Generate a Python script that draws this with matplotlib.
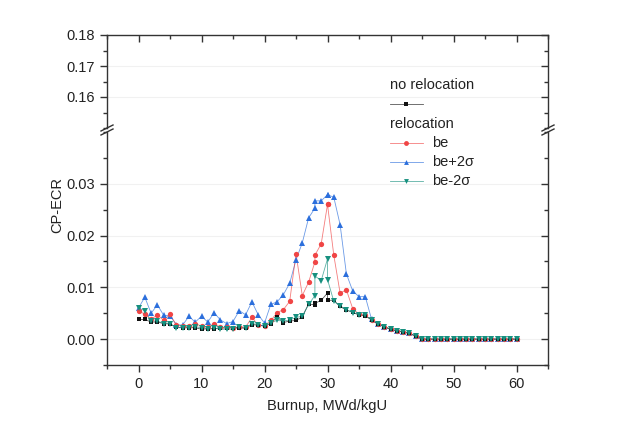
import matplotlib
matplotlib.use('Agg')
import matplotlib.pyplot as plt
from matplotlib.lines import Line2D
from matplotlib.ticker import MultipleLocator

# Burnup grid (two sub-steps at 28 and 30)
burnup = [0, 1, 2, 3, 4, 5, 6, 7, 8, 9, 10, 11, 12, 13, 14, 15, 16, 17, 18, 19,
          20, 21, 22, 23, 24, 25, 26, 27, 28, 28, 29, 30, 30, 31, 32, 33, 34, 35,
          36, 37, 38, 39, 40, 41, 42, 43, 44, 45, 46, 47, 48, 49, 50, 51, 52, 53,
          54, 55, 56, 57, 58, 59, 60]

no_reloc = [0.0038, 0.0038, 0.0033, 0.0033, 0.0030, 0.0029, 0.0023, 0.0022, 0.0022, 0.0022,
            0.0019, 0.0020, 0.0020, 0.0022, 0.0021, 0.0022, 0.0022, 0.0021, 0.0028, 0.0027,
            0.0025, 0.0030, 0.0043, 0.0032, 0.0035, 0.0036, 0.0043, 0.0068, 0.0066, 0.0069,
            0.0075, 0.0089, 0.0075, 0.0075, 0.0063, 0.0056, 0.0052, 0.0047, 0.0045, 0.0037,
            0.0029, 0.0024, 0.0019, 0.0016, 0.0014, 0.0011, 0.0006, 0, 0, 0, 0, 0, 0, 0,
            0, 0, 0, 0, 0, 0, 0, 0, 0]

be = [0.0055, 0.0048, 0.0038, 0.0047, 0.0036, 0.0048, 0.0027, 0.0025, 0.0025, 0.0030,
      0.0025, 0.0024, 0.0029, 0.0023, 0.0023, 0.0022, 0.0024, 0.0023, 0.0042, 0.0027,
      0.0026, 0.0036, 0.0051, 0.0057, 0.0073, 0.0165, 0.0084, 0.0110, 0.0149, 0.0162,
      0.0184, 0.0260, 0.0260, 0.0162, 0.0089, 0.0095, 0.0059, 0.0048, 0.0046, 0.0037,
      0.0029, 0.0024, 0.0019, 0.0016, 0.0014, 0.0011, 0.0006, 0, 0, 0, 0, 0, 0, 0,
      0, 0, 0, 0, 0, 0, 0, 0, 0]

be_plus = [0.0060, 0.0081, 0.0050, 0.0066, 0.0046, 0.0045, 0.0028, 0.0027, 0.0044, 0.0033,
           0.0044, 0.0033, 0.0051, 0.0037, 0.0030, 0.0034, 0.0055, 0.0047, 0.0072, 0.0047,
           0.0031, 0.0067, 0.0072, 0.0086, 0.0108, 0.0153, 0.0186, 0.0234, 0.0253, 0.0267,
           0.0267, 0.0279, 0.0279, 0.0274, 0.0221, 0.0126, 0.0093, 0.0082, 0.0082, 0.0038,
           0.0029, 0.0024, 0.0019, 0.0016, 0.0014, 0.0011, 0.0006, 0, 0, 0, 0, 0, 0, 0,
           0, 0, 0, 0, 0, 0, 0, 0, 0]

be_minus = [0.0060, 0.0055, 0.0035, 0.0035, 0.0030, 0.0030, 0.0022, 0.0022, 0.0022, 0.0024,
            0.0022, 0.0020, 0.0021, 0.0019, 0.0019, 0.0019, 0.0023, 0.0021, 0.0030, 0.0028,
            0.0025, 0.0032, 0.0036, 0.0035, 0.0037, 0.0042, 0.0044, 0.0067, 0.0084, 0.0122,
            0.0113, 0.0155, 0.0115, 0.0073, 0.0064, 0.0057, 0.0051, 0.0047, 0.0046, 0.0037,
            0.0029, 0.0024, 0.0019, 0.0016, 0.0014, 0.0011, 0.0006, 0, 0, 0, 0, 0, 0, 0,
            0, 0, 0, 0, 0, 0, 0, 0, 0]

series = [
    ("be+2σ", be_plus, '#2c6fdc', '^', 4.3),
    ("be", be, '#f04545', 'o', 3.8),
    ("no relocation", no_reloc, '#111111', 's', 3.2),
    ("be-2σ", be_minus, '#17907f', 'v', 4.3),
]

plt.rcParams['font.family'] = ['Liberation Sans', 'DejaVu Sans']
fs = 10.5
spine_c = '#333333'

fig = plt.figure(figsize=(6.42, 4.44), dpi=100)
W, H = 642.0, 444.0
left, right = 107 / W, 548 / W
ax_top = fig.add_axes([left, 1 - 128 / H, right - left, (128 - 35) / H])
ax_bot = fig.add_axes([left, 1 - 365 / H, right - left, (365 - 132) / H])

for ax in (ax_top, ax_bot):
    for name, y, c, m, ms in series:
        ax.plot(burnup, y, color=c, linewidth=0.6, alpha=0.7, zorder=2)
        ax.plot(burnup, y, linestyle='none', marker=m, markersize=ms, color=c,
                markeredgewidth=0, zorder=3)
    ax.set_xlim(-5, 65)
    ax.xaxis.set_major_locator(MultipleLocator(10))
    ax.xaxis.set_minor_locator(MultipleLocator(5))
    for s in ax.spines.values():
        s.set_color(spine_c)
        s.set_linewidth(1.0)
    ax.grid(axis='y', which='major', color='#f1f1f1', linewidth=0.8, zorder=0)

ax_top.set_ylim(0.15, 0.18)
ax_top.yaxis.set_minor_locator(MultipleLocator(0.005))
ax_top.set_yticks([0.16, 0.17, 0.18])
ax_top.yaxis.set_major_formatter(plt.FormatStrFormatter('%.2f'))
ax_top.spines['bottom'].set_visible(False)
ax_top.tick_params(axis='x', which='both', bottom=False, labelbottom=False, top=True,
                   direction='in', colors=spine_c)
ax_top.tick_params(axis='x', which='major', length=5, width=1)
ax_top.tick_params(axis='x', which='minor', length=3, width=1)

ax_bot.set_ylim(-0.005, 0.04)
ax_bot.yaxis.set_minor_locator(MultipleLocator(0.005))
ax_bot.set_yticks([0.00, 0.01, 0.02, 0.03])
ax_bot.yaxis.set_major_formatter(plt.FormatStrFormatter('%.2f'))
ax_bot.spines['top'].set_visible(False)
ax_bot.tick_params(axis='x', which='both', top=False, direction='out', colors=spine_c,
                   labelcolor='#222222', labelsize=fs)
ax_bot.tick_params(axis='x', which='major', length=5, width=1)
ax_bot.tick_params(axis='x', which='minor', length=3, width=1)

for ax in (ax_top, ax_bot):
    ax.tick_params(axis='y', which='both', left=True, right=True, direction='out',
                   colors=spine_c, labelcolor='#222222', labelsize=fs)
    ax.tick_params(axis='y', which='major', length=5, width=1)
    ax.tick_params(axis='y', which='minor', length=3, width=1)
    # right side ticks point inward
    for t in ax.yaxis.get_major_ticks() + ax.yaxis.get_minor_ticks():
        t.tick2line.set_marker(matplotlib.markers.TICKLEFT)

ax_bot.set_xlabel("Burnup, MWd/kgU", fontsize=fs, color='#222222', labelpad=6)
fig.text(57 / W, 1 - 205 / H, "CP-ECR", rotation=90, ha='center', va='center',
         fontsize=fs, color='#222222')

# axis break marks
for xp in (107, 548):
    for yp in (128, 132):
        fig.add_artist(Line2D([(xp - 6) / W, (xp + 6) / W], [1 - (yp + 3) / H, 1 - (yp - 3) / H],
                              color=spine_c, linewidth=1.0))

# legend
lx0, lx1, tx = 390 / W, 423 / W, 432 / W
fig.text(lx0, 1 - 85 / H, "no relocation", fontsize=fs, va='center', color='#222222')
fig.add_artist(Line2D([lx0, lx1], [1 - 104 / H] * 2, color='#111111', linewidth=0.6, alpha=0.7))
fig.add_artist(Line2D([(lx0 + lx1) / 2], [1 - 104 / H], marker='s', markersize=3,
                      color='#111111', markeredgewidth=0))
fig.text(lx0, 1 - 124 / H, "relocation", fontsize=fs, va='center', color='#222222')
leg_rows = [("be", '#f04545', 'o', 143), ("be+2σ", '#2c6fdc', '^', 162),
            ("be-2σ", '#17907f', 'v', 181)]
for name, c, m, yp in leg_rows:
    fig.add_artist(Line2D([lx0, lx1], [1 - yp / H] * 2, color=c, linewidth=0.6, alpha=0.7))
    fig.add_artist(Line2D([(lx0 + lx1) / 2], [1 - yp / H], marker=m, markersize=3.5,
                          color=c, markeredgewidth=0))
    fig.text(tx, 1 - yp / H, name, fontsize=fs, va='center', color='#222222')

fig.savefig("out.png", dpi=100)
